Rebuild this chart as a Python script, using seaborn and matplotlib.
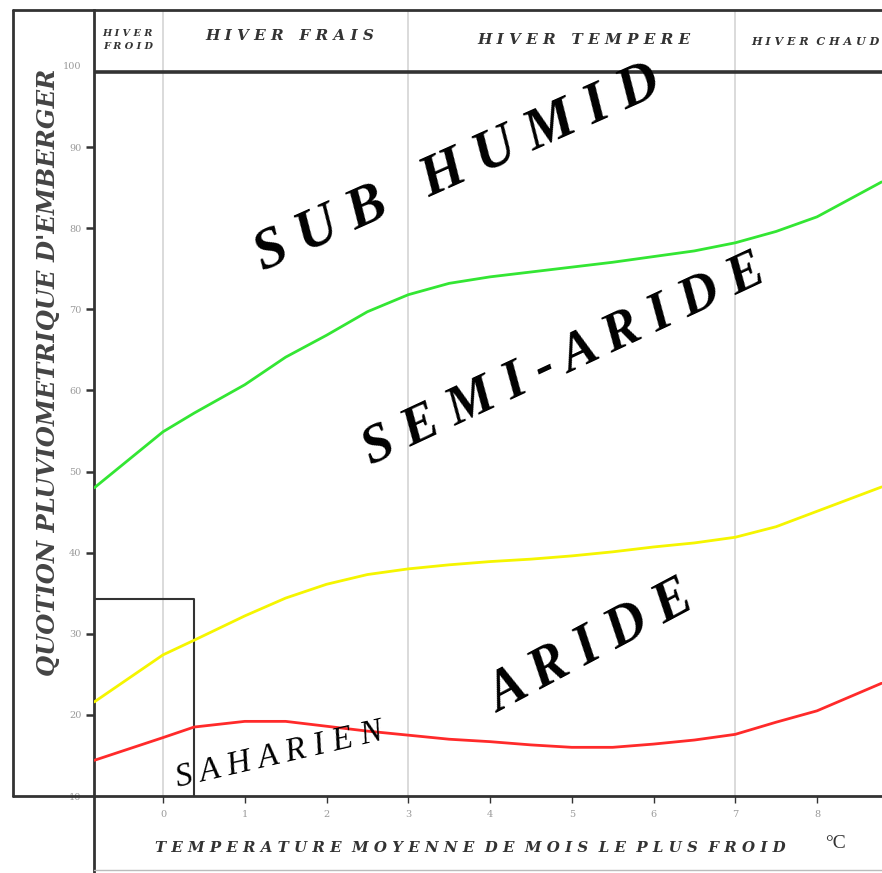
import matplotlib
matplotlib.use("Agg")
import matplotlib.pyplot as plt
from matplotlib.lines import Line2D
import numpy as np
import pandas as pd
import seaborn as sns

# temperature of the coldest month (deg C) where the curves were read
temp = [-0.84, 0, 0.38, 1, 1.5, 2, 2.5, 3, 3.5, 4, 4.5, 5, 5.5, 6, 6.5, 7, 7.5, 8, 8.79]

# Emberger quotient limits between the climate zones
limit_subhumid = [48.0, 54.9, 57.2, 60.7, 64.1, 66.8, 69.7, 71.8, 73.2, 74.0,
                  74.6, 75.2, 75.8, 76.5, 77.2, 78.2, 79.6, 81.4, 85.7]
limit_semiarid = [21.6, 27.4, 29.2, 32.2, 34.4, 36.1, 37.3, 38.0, 38.5, 38.9,
                  39.2, 39.6, 40.1, 40.7, 41.2, 41.9, 43.2, 45.1, 48.1]
limit_aride = [14.4, 17.2, 18.5, 19.2, 19.2, 18.6, 18.0, 17.5, 17.0, 16.7,
               16.3, 16.0, 16.0, 16.4, 16.9, 17.6, 19.1, 20.5, 23.9]

x_ticks = [0, 1, 2, 3, 4, 5, 6, 7, 8]
y_ticks = [10, 20, 30, 40, 50, 60, 70, 80, 90, 100]
winter_limits = [0, 3, 7]
saharien_box = (0.38, 34.3)
header_level = 99.3

df = pd.concat([
    pd.DataFrame({"temp": temp, "Q": limit_subhumid, "limite": "subhumid"}),
    pd.DataFrame({"temp": temp, "Q": limit_semiarid, "limite": "semiaride"}),
    pd.DataFrame({"temp": temp, "Q": limit_aride, "limite": "aride"}),
])
palette = {"subhumid": "#33e633", "semiaride": "#f5f500", "aride": "#ff2a2a"}

sns.set_style("white")
plt.rcParams["font.family"] = ["DejaVu Serif"]

fig = plt.figure(figsize=(8.82, 8.73), dpi=100)
W, H = 882, 873
ax = fig.add_axes([94 / W, 77 / H, 788 / W, 786 / H])

for v in winter_limits:
    ax.axvline(v, color="#d4d4d4", lw=1.2, zorder=0)

sns.lineplot(data=df, x="temp", y="Q", hue="limite", palette=palette,
             lw=2, legend=False, ax=ax, zorder=3)

ax.set_xlim(-0.844, 8.795)
ax.set_ylim(10, 106.9)

# header band and Saharan box
ax.axhline(header_level, color="#333333", lw=2.6)
bx, by = saharien_box
ax.plot([ax.get_xlim()[0], bx, bx], [by, by, 10], color="#333333", lw=1.5)

ax.set_xticks(x_ticks)
ax.set_xticklabels([str(t) for t in x_ticks])
ax.set_yticks(y_ticks)
ax.set_yticklabels([str(t) for t in y_ticks])
ax.tick_params(axis="both", direction="out", length=6, width=1.8, color="#333333",
               labelsize=7, labelcolor="#9a9a9a", left=True, bottom=True)
ax.tick_params(axis="y", pad=3)
ax.tick_params(axis="x", length=5, width=1, pad=5)
yt = ax.yaxis.get_major_ticks()
yt[0].tick1line.set_visible(False)
yt[-1].tick1line.set_visible(False)
ax.set_xlabel("")
ax.set_ylabel("")

for s in ["top", "right"]:
    ax.spines[s].set_visible(False)
for s in ["left", "bottom"]:
    ax.spines[s].set_color("#333333")
    ax.spines[s].set_linewidth(2)

# outer frame lines (figure pixels)
def fig_line(x0, y0, x1, y1, color="#333333", lw=2):
    fig.add_artist(Line2D([x0 / W, x1 / W], [1 - y0 / H, 1 - y1 / H],
                          color=color, lw=lw, transform=fig.transFigure))

fig_line(13, 10, 882, 10)
fig_line(13, 10, 13, 796)
fig_line(13, 796, 94, 796)
fig_line(94, 796, 94, 873)
fig_line(94, 870, 882, 870, color="#bbbbbb", lw=1)

hdr = dict(style="italic", fontweight="bold", color="#333333", ha="center", va="center",
           family=["DejaVu Serif"])
ax.text(-0.43, 103.2, "H I V E R\nF R O I D", fontsize=7, linespacing=1.5, **hdr)
ax.text(1.55, 103.7, "H I V E R   F R A I S", fontsize=11, **hdr)
ax.text(5.15, 103.2, "H I V E R   T E M P E R E", fontsize=11, **hdr)
ax.text(7.98, 103.0, "H I V E R  C H A U D", fontsize=8, **hdr)

big = dict(family=["Liberation Serif"], fontweight="bold", style="italic", color="black",
           ha="center", va="center", rotation_mode="anchor", zorder=5)
ax.text(3.6, 87.3, "S U B   H U M I D", fontsize=41, rotation=24, **big)
ax.text(4.9, 63.8, "S E M I - A R I D E", fontsize=39, rotation=25, **big)
ax.text(5.25, 28.3, "A R I D E", fontsize=40, rotation=28, **big)
ax.text(1.42, 15.0, "S A H A R I E N", fontsize=24, rotation=13,
        **{**big, "fontweight": "normal"})

fig.text(470 / W, 1 - 848 / H, "T E M P E R A T U R E  M O Y E N N E  D E  M O I S  L E  P L U S  F R O I D",
         fontsize=10.8, ha="center", va="center", **{k: hdr[k] for k in ("style", "fontweight", "color", "family")})
fig.text(835 / W, 1 - 843 / H, "°C", fontsize=14, ha="center", va="center",
         family=["Liberation Serif"], color="#333333")
fig.text(48 / W, 1 - 372 / H, "QUOTION PLUVIOMETRIQUE D'EMBERGER", rotation=90,
         fontsize=17.5, ha="center", va="center", style="italic", fontweight="bold",
         color="#444444", family=["DejaVu Serif"])

fig.savefig("out.png", dpi=100)
